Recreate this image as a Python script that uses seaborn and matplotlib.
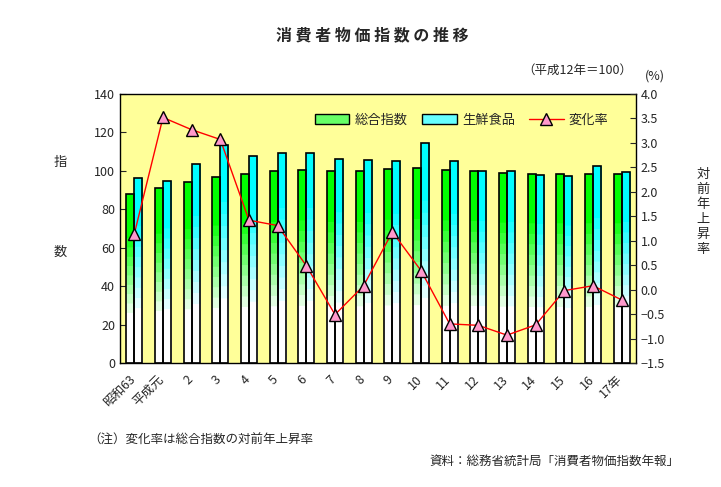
import numpy as np
import pandas as pd
import matplotlib
matplotlib.use("Agg")
import matplotlib.pyplot as plt
import seaborn as sns
from matplotlib.colors import LinearSegmentedColormap
from matplotlib.patches import Patch
from matplotlib.lines import Line2D
from matplotlib.ticker import FixedLocator

# ── data ──
years = ["昭和63", "平成元", "2", "3", "4", "5", "6", "7", "8", "9",
         "10", "11", "12", "13", "14", "15", "16", "17年"]
sogo = [88.0, 91.1, 94.2, 96.8, 98.4, 99.9, 100.6, 99.9, 99.9, 101.0,
        101.5, 100.5, 100.0, 98.9, 98.4, 98.4, 98.4, 98.4]
seisen = [96.3, 94.9, 103.6, 113.5, 107.8, 109.3, 109.3, 106.2, 105.7, 105.2,
          114.5, 105.2, 100.0, 99.9, 97.9, 97.3, 102.5, 99.4]
rate = [1.14, 3.52, 3.27, 3.07, 1.42, 1.31, 0.49, -0.51, 0.08, 1.18,
        0.39, -0.70, -0.73, -0.93, -0.72, -0.02, 0.08, -0.21]
series = ["総合指数", "生鮮食品"]
colors = {"総合指数": "#00FF00", "生鮮食品": "#00FFFF"}

sns.set_style("white")
plt.rcParams["font.family"] = ["Noto Sans CJK JP", "DejaVu Sans"]

df = pd.DataFrame({
    "年": years * 2,
    "系列": [series[0]] * len(years) + [series[1]] * len(years),
    "値": sogo + seisen,
})

fig = plt.figure(figsize=(7.21, 4.87), dpi=100)
ax = fig.add_axes([0.1664, 0.2546, 0.7157, 0.5524])
ax.set_facecolor("#FFFF99")

sns.barplot(data=df, x="年", y="値", hue="系列", palette=colors,
            width=0.56, edgecolor="black", linewidth=1.2, legend=False, ax=ax)

# gradient fill: colour at the top of each bar, white towards the bottom
grad = np.clip((np.linspace(0, 1, 200) - 0.24) / 0.55, 0, 1).reshape(-1, 1)
for patch in ax.patches:
    fc = patch.get_facecolor()
    base = "#00FF00" if fc[2] < 0.5 else "#00FFFF"
    cmap = LinearSegmentedColormap.from_list("g", ["white", base], N=10)
    x0, y0 = patch.get_x(), patch.get_y()
    w, h = patch.get_width(), patch.get_height()
    im = ax.imshow(grad, extent=[x0, x0 + w, y0, y0 + h], origin="lower",
                   aspect="auto", cmap=cmap, zorder=patch.get_zorder() - 0.1)
    im.set_clip_path(patch)
    patch.set_facecolor("none")

ax.set_xlim(-0.5, len(years) - 0.5)
ax.set_ylim(0, 140)
ax.set_yticks(range(0, 141, 20))
ax.set_xlabel("")
ax.set_ylabel("")
# labels sit a little left of the group centre, as in the original
ax.set_xticks(np.arange(len(years)) - 0.2)
ax.set_xticklabels(years, rotation=45, ha="right", rotation_mode="anchor", fontsize=9)
ax.xaxis.set_minor_locator(FixedLocator(np.arange(-0.5, len(years), 1)))
ax.tick_params(axis="x", which="major", length=0, pad=7)
ax.tick_params(axis="x", which="minor", direction="in", length=4, color="black")
ax.tick_params(axis="y", direction="in", length=4, labelsize=9, left=True)
for s in ax.spines.values():
    s.set_color("black")
    s.set_linewidth(1)
    s.set_visible(True)

ax2 = ax.twinx()
sns.lineplot(x=np.arange(len(years)), y=rate, ax=ax2, color="red", lw=1,
             marker="^", markersize=9, markerfacecolor="#FF99CC",
             markeredgecolor="black", markeredgewidth=1)
ax2.set_ylim(-1.5, 4.0)
ax2.set_yticks(np.arange(-1.5, 4.01, 0.5))
ax2.set_yticklabels([f"{v:.1f}".replace("-", "−") for v in np.arange(-1.5, 4.01, 0.5)])
ax2.tick_params(axis="y", direction="in", length=4, labelsize=9, right=True)
for s in ax2.spines.values():
    s.set_visible(False)

handles = [Patch(facecolor="#66FF66", edgecolor="black"),
           Patch(facecolor="#66FFFF", edgecolor="black"),
           Line2D([0], [0], color="red", lw=1, marker="^", markersize=8,
                  markerfacecolor="#FF99CC", markeredgecolor="black")]
ax2.legend(handles, ["総合指数", "生鮮食品", "変化率"], ncol=3, frameon=False,
           loc="upper right", bbox_to_anchor=(0.97, 0.97), fontsize=9.5,
           handlelength=2.6, handleheight=0.8, columnspacing=1.1, handletextpad=0.4)

fig.text(0.517, 0.928, "消 費 者 物 価 指 数 の 推 移", ha="center", va="center",
         fontsize=11.5, fontweight="bold")
fig.text(0.877, 0.856, "（平成12年＝100）", ha="right", va="center", fontsize=9)
fig.text(0.908, 0.844, "(%)", ha="center", va="center", fontsize=9)
fig.text(0.083, 0.667, "指", ha="center", va="center", fontsize=9.5)
fig.text(0.083, 0.482, "数", ha="center", va="center", fontsize=9.5)
fig.text(0.975, 0.565, "対\n前\n年\n上\n昇\n率", ha="center", va="center",
         fontsize=9.5, linespacing=1.2)
fig.text(0.122, 0.095, "（注）変化率は総合指数の対前年上昇率", ha="left", va="center", fontsize=9)
fig.text(0.943, 0.053, "資料：総務省統計局「消費者物価指数年報」", ha="right", va="center", fontsize=9)

fig.savefig("out.png", dpi=100)
